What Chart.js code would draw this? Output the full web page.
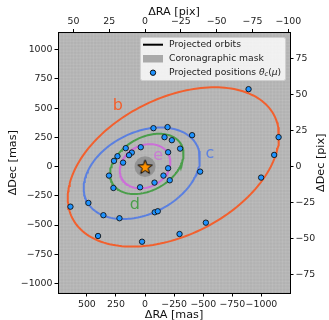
<!DOCTYPE html>
<html>
<head>
<meta charset="utf-8">
<script src="https://cdn.jsdelivr.net/npm/chart.js@4"></script>
<style>
  html, body { margin: 0; padding: 0; background: #fff; }
  #wrap { width: 329px; height: 320px; }
</style>
</head>
<body>
<div id="wrap"><canvas id="chart"></canvas></div>
<script>
// planets and their projected orbits (ellipse elements, mas)
const planets = ['b', 'c', 'd', 'e'];
const orbitColors = ['#f2602e', '#5b80e0', '#4a9e4a', '#cc6fd8'];
const orbitCenterRA = [-243, 28, -15, 0];
const orbitCenterDec = [-3, -57, 23, 3];
const orbitSemiMajor = [972, 530, 339, 226];
const orbitSemiMinor = [586, 349, 226, 179];
const orbitAngle = [153.3, 153.5, 150.5, 153.5];
const labelRA = [235, -556, 89, -112];
const labelDec = [520, 109, -328, 92];

// projected positions (mas)
const posRA = [-889, -1147, -1109, -997, -522, 641, 487, 358, 220, -83, -109, -473,
  -404, -193, -72, -167, -230, -301, -198, -198, -158, -212, -81, 43, 272, 310,
  189, 267, 237, 166, 114, 138, 37, 404, 26, -296];
const posDec = [663, 252, 100, -94, -480, -343, -311, -416, -442, -391, -382, -43,
  269, 338, 329, 252, 226, 154, 123, -14, -77, -117, -137, -177, -183, -77,
  34, 49, 89, 158, 120, 98, 166, -594, -643, -577];

const maskRadius = 90;
const masPerPix = 12.3;
const raRange = [-1245, 748];
const decRange = [-1082, 1148];
const raTicks = [500, 250, 0, -250, -500, -750, -1000];
const decTicks = [-1000, -750, -500, -250, 0, 250, 500, 750, 1000];
const raPixTicks = [50, 25, 0, -25, -50, -75, -100];
const decPixTicks = [-75, -50, -25, 0, 25, 50, 75];

const FONT = '"DejaVu Sans", sans-serif';

function ellipse(i) {
  const pts = [];
  const phi = orbitAngle[i] * Math.PI / 180;
  for (let k = 0; k <= 180; k++) {
    const t = k / 180 * 2 * Math.PI;
    const a = orbitSemiMajor[i] * Math.cos(t);
    const b = orbitSemiMinor[i] * Math.sin(t);
    pts.push({
      x: orbitCenterRA[i] + a * Math.cos(phi) - b * Math.sin(phi),
      y: orbitCenterDec[i] + a * Math.sin(phi) + b * Math.cos(phi)
    });
  }
  return pts;
}

function starImage(r) {
  const c = document.createElement('canvas');
  const s = Math.ceil(r * 2 + 4);
  c.width = s; c.height = s;
  const g = c.getContext('2d');
  g.beginPath();
  for (let k = 0; k < 10; k++) {
    const rr = k % 2 === 0 ? r : r * 0.42;
    const ang = -Math.PI / 2 + k * Math.PI / 5;
    g.lineTo(s / 2 + rr * Math.cos(ang), s / 2 + 0.8 + rr * Math.sin(ang));
  }
  g.closePath();
  g.fillStyle = '#ff9200';
  g.fill();
  g.lineWidth = 1;
  g.strokeStyle = '#000';
  g.stroke();
  return c;
}

const fmt = v => (v < 0 ? '\u2212' + Math.abs(v) : '' + v);

const datasets = [];
datasets.push({
  data: [{ x: 0, y: 0 }],
  pointStyle: starImage(7.5),
  pointRadius: 8,
  order: 0
});
datasets.push({
  data: posRA.map((x, i) => ({ x, y: posDec[i] })),
  pointRadius: 2.7,
  pointBackgroundColor: '#1e93ff',
  pointBorderColor: '#111',
  pointBorderWidth: 0.9,
  order: 1
});
planets.forEach((p, i) => {
  datasets.push({
    data: ellipse(i),
    showLine: true,
    borderColor: orbitColors[i],
    borderWidth: 2,
    pointRadius: 0,
    tension: 0,
    order: 2 + i
  });
});

function axis(pos, range, ticks, size) {
  const horiz = pos === 'top' || pos === 'bottom';
  return {
    type: 'linear',
    position: pos,
    reverse: horiz,
    min: range[0],
    max: range[1],
    afterBuildTicks: s => { s.ticks = ticks.map(v => ({ value: v })); },
    afterFit: s => { if (horiz) s.height = size; else s.width = size; },
    ticks: {
      callback: fmt,
      font: { family: FONT, size: 9.4 },
      color: '#222',
      padding: 2,
      maxRotation: 0,
      autoSkip: false
    },
    grid: { drawOnChartArea: false, tickLength: 3.5, color: '#000', lineWidth: 1 },
    border: { color: '#000', width: 1 }
  };
}

const backdrop = {
  id: 'backdrop',
  beforeDraw(chart) {
    const { ctx, chartArea: a, scales } = chart;
    ctx.save();
    ctx.fillStyle = '#a6a6a6';
    ctx.fillRect(a.left, a.top, a.right - a.left, a.bottom - a.top);
    ctx.beginPath();
    ctx.rect(a.left, a.top, a.right - a.left, a.bottom - a.top);
    ctx.clip();
    ctx.strokeStyle = 'rgba(255,255,255,0.3)';
    ctx.lineWidth = 0.5;
    const x2 = scales.x2, y2 = scales.y2;
    for (let v = Math.ceil(x2.min); v <= x2.max; v++) {
      const px = x2.getPixelForValue(v);
      ctx.beginPath(); ctx.moveTo(px, a.top); ctx.lineTo(px, a.bottom); ctx.stroke();
    }
    for (let v = Math.ceil(y2.min); v <= y2.max; v++) {
      const py = y2.getPixelForValue(v);
      ctx.beginPath(); ctx.moveTo(a.left, py); ctx.lineTo(a.right, py); ctx.stroke();
    }
    ctx.restore();
  },
  beforeDatasetsDraw(chart) {
    const { ctx, scales } = chart;
    const cx = scales.x.getPixelForValue(0), cy = scales.y.getPixelForValue(0);
    const r = Math.abs(scales.x.getPixelForValue(maskRadius) - cx);
    ctx.save();
    ctx.fillStyle = 'rgba(120,120,120,0.55)';
    ctx.beginPath(); ctx.arc(cx, cy, r, 0, 2 * Math.PI); ctx.fill();
    ctx.restore();
  },
  afterDraw(chart) {
    const { ctx, chartArea: a, scales } = chart;
    ctx.save();
    // planet labels
    ctx.font = '16px ' + FONT;
    ctx.textAlign = 'center';
    ctx.textBaseline = 'middle';
    planets.forEach((p, i) => {
      ctx.fillStyle = orbitColors[i];
      ctx.globalAlpha = p === 'e' ? 0.8 : 1;
      ctx.fillText(p, scales.x.getPixelForValue(labelRA[i]), scales.y.getPixelForValue(labelDec[i]));
    });
    ctx.globalAlpha = 1;

    // axis titles
    ctx.fillStyle = '#111';
    ctx.font = '11.2px ' + FONT;
    const mid = (a.left + a.right) / 2, midY = (a.top + a.bottom) / 2;
    ctx.fillText('\u0394RA [mas]', mid, 315);
    ctx.fillText('\u0394RA [pix]', mid, 12);
    ctx.save(); ctx.translate(13, midY); ctx.rotate(-Math.PI / 2);
    ctx.fillText('\u0394Dec [mas]', 0, 0); ctx.restore();
    ctx.save(); ctx.translate(321, midY); ctx.rotate(-Math.PI / 2);
    ctx.fillText('\u0394Dec [pix]', 0, 0); ctx.restore();

    // legend
    const lx = 140, ly = 37, lw = 145, lh = 43;
    ctx.fillStyle = 'rgba(255,255,255,0.8)';
    ctx.strokeStyle = '#d0d0d0';
    ctx.lineWidth = 1;
    ctx.beginPath(); ctx.roundRect(lx + 0.5, ly + 0.5, lw, lh, 2); ctx.fill(); ctx.stroke();
    ctx.strokeStyle = '#000'; ctx.lineWidth = 2;
    ctx.beginPath(); ctx.moveTo(143, 44.7); ctx.lineTo(163, 44.7); ctx.stroke();
    ctx.fillStyle = '#a9a9a9';
    ctx.fillRect(143, 55, 20, 7.5);
    ctx.fillStyle = '#1e93ff'; ctx.strokeStyle = '#111'; ctx.lineWidth = 1;
    ctx.beginPath(); ctx.arc(153, 72.7, 2.7, 0, 2 * Math.PI); ctx.fill(); ctx.stroke();
    ctx.fillStyle = '#222';
    ctx.textAlign = 'left';
    const fs = 9.2;
    ctx.font = fs + 'px ' + FONT;
    ctx.fillText('Projected orbits', 169, 44.7);
    ctx.fillText('Coronagraphic mask', 169, 58.7);
    let tx = 169;
    const seg = (s, f, dy) => { ctx.font = f; ctx.fillText(s, tx, 72.7 + (dy || 0)); tx += ctx.measureText(s).width; };
    seg('Projected positions ', fs + 'px ' + FONT);
    seg('\u03b8', 'italic ' + fs + 'px ' + FONT);
    seg('c', 'italic 6.5px ' + FONT, 2);
    seg('(', fs + 'px ' + FONT);
    seg('\u03bc', 'italic ' + fs + 'px ' + FONT);
    seg(')', fs + 'px ' + FONT);
    ctx.restore();
  }
};

new Chart(document.getElementById('chart'), {
  type: 'scatter',
  data: { datasets },
  options: {
    responsive: true,
    maintainAspectRatio: false,
    animation: false,
    layout: { padding: 0 },
    plugins: { legend: { display: false }, tooltip: { enabled: false } },
    scales: {
      x: axis('bottom', raRange, raTicks, 27),
      x2: axis('top', raRange.map(v => v / masPerPix), raPixTicks, 32.5),
      y: axis('left', decRange, decTicks, 58),
      y2: axis('right', decRange.map(v => v / masPerPix), decPixTicks, 39)
    }
  },
  plugins: [backdrop]
});
</script>
</body>
</html>
